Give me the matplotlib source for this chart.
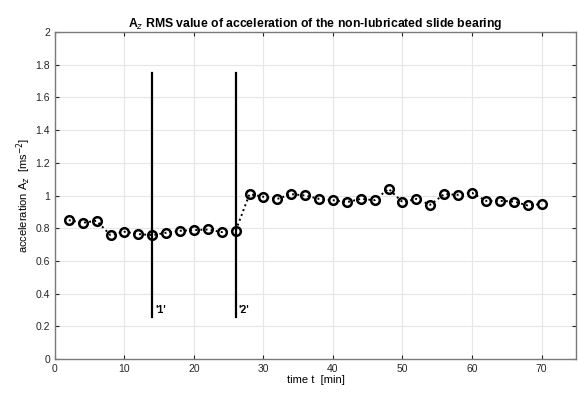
import matplotlib
matplotlib.use("Agg")
import matplotlib.pyplot as plt
import numpy as np

plt.rcParams['font.family'] = ['Liberation Sans', 'DejaVu Sans']

time_min = list(range(2, 71, 2))
accel = [0.85, 0.834, 0.846, 0.758, 0.779, 0.765, 0.758, 0.773, 0.785, 0.789,
         0.793, 0.777, 0.785,
         1.009, 0.993, 0.98, 1.009, 1.001, 0.98, 0.972, 0.96, 0.98, 0.972,
         1.042, 0.96, 0.98, 0.944, 1.009, 1.005, 1.017, 0.968, 0.968, 0.964,
         0.94, 0.948]
event_times = [14, 26]
event_labels = ["'1'", "'2'"]
event_ymin, event_ymax = 0.26, 1.75

fig = plt.figure(figsize=(5.78, 3.96), dpi=100)
ax = fig.add_axes([0.095, 0.093, 0.902, 0.826])

ax.plot(time_min, accel, linestyle=':', color='black', linewidth=1.4,
        marker='o', markersize=6.2, markerfacecolor='none',
        markeredgecolor='black', markeredgewidth=1.8)

for t, lab in zip(event_times, event_labels):
    ax.plot([t, t], [event_ymin, event_ymax], color='black', linewidth=1.6)
    ax.text(t + 0.4, 0.30, lab, fontsize=7.5, fontweight='bold', ha='left', va='center')

ax.set_xlim(0, 75)
ax.set_ylim(0, 2)
ax.set_xticks(np.arange(0, 71, 10))
ax.set_yticks(np.arange(0, 2.01, 0.2))
ax.set_yticklabels(['0', '0.2', '0.4', '0.6', '0.8', '1', '1.2', '1.4', '1.6', '1.8', '2'])
ax.grid(True, color='#e6e6e6', linewidth=0.8)
ax.set_axisbelow(True)
ax.tick_params(direction='in', top=True, right=True, labelsize=7.5, colors='#262626', length=3)
for s in ax.spines.values():
    s.set_color('#7a7a7a')
    s.set_linewidth(1.0)

ax.set_title('A$_z$ RMS value of acceleration of the non-lubricated slide bearing',
             fontsize=8.8, fontweight='bold', pad=4)
ax.set_xlabel('time t  [min]', fontsize=8, labelpad=1)
ax.set_ylabel('acceleration A$_z$  [ms$^{-2}$]', fontsize=8, labelpad=2)

fig.savefig('out.png', dpi=100)
